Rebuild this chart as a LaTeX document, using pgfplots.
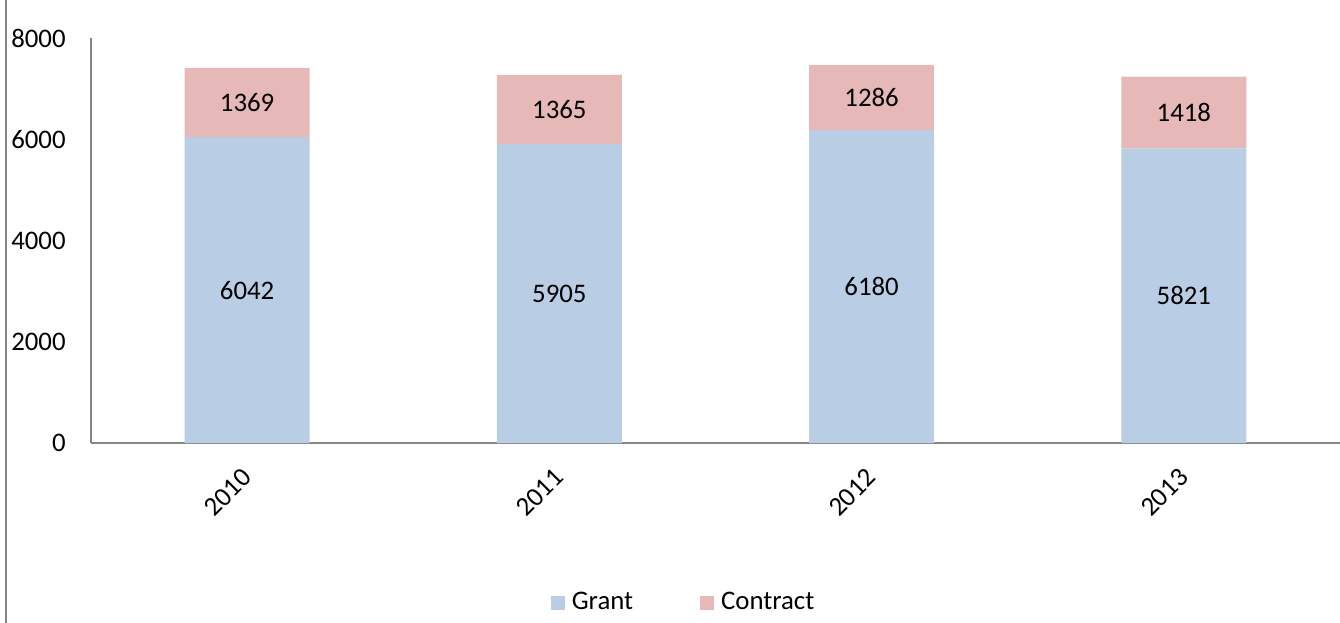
\documentclass[border=0pt]{standalone}
\usepackage{fontspec}
\setmainfont{Carlito}
\usepackage{pgfplots}
\pgfplotsset{compat=1.18}
\definecolor{grantc}{HTML}{B9CDE5}
\definecolor{contrc}{HTML}{E6B9B8}
\definecolor{axc}{HTML}{868686}
\begin{document}
\fontsize{13.4bp}{15.6bp}\selectfont
\begin{tikzpicture}
\path[use as bounding box] (-45.5bp,-90bp) rectangle (624.5bp,221.5bp);
\draw[axc, line width=1bp] (-42.5bp,-90bp) -- (-42.5bp,221.5bp);
\begin{axis}[
 at={(0,0)}, anchor=south west,
 scale only axis, width=624.5bp, height=202.5bp,
 ybar stacked, bar width=62.5bp,
 xmin=-0.5, xmax=3.5, ymin=0, ymax=8000,
 xtick={0,1,2,3}, xticklabels={2010,2011,2012,2013},
 ytick={0,2000,4000,6000,8000},
 axis x line*=bottom, axis y line*=left,
 axis line style={axc, line width=1bp},
 major tick length=0pt,
 tick style={draw=none},
 /pgf/number format/assume math mode=true,
 /pgf/number format/set thousands separator={},
 scaled y ticks=false,
 tick label style={font=\fontsize{13.4bp}{15.6bp}\selectfont},
 yticklabel style={anchor=east, inner sep=0pt, xshift=-12.5bp},
 xticklabel style={inner sep=0pt, yshift=-15bp, rotate=45, anchor=east},
 point meta=explicit symbolic,
 nodes near coords,
 every node near coord/.append style={anchor=center, inner sep=0pt, font=\fontsize{13.4bp}{15.6bp}\selectfont},
 legend style={at={(0.4752,-0.395)}, anchor=center, draw=none, fill=none, legend columns=-1, font=\fontsize{13.4bp}{15.6bp}\selectfont, /tikz/every even column/.append style={column sep=31.5bp}},
 legend image code/.code={\path (0bp,0bp) -- (8.5bp,0bp); \fill[#1] (0bp,-3.5bp) rectangle (7bp,3.5bp);},
]
\addplot[fill=grantc, draw=none] table[x=x, y=y, meta=y] {
x y
0 6042
1 5905
2 6180
3 5821
};
\addplot[fill=contrc, draw=none] table[x=x, y=y, meta=y] {
x y
0 1369
1 1365
2 1286
3 1418
};
\legend{Grant, Contract}
\end{axis}
\end{tikzpicture}
\end{document}
